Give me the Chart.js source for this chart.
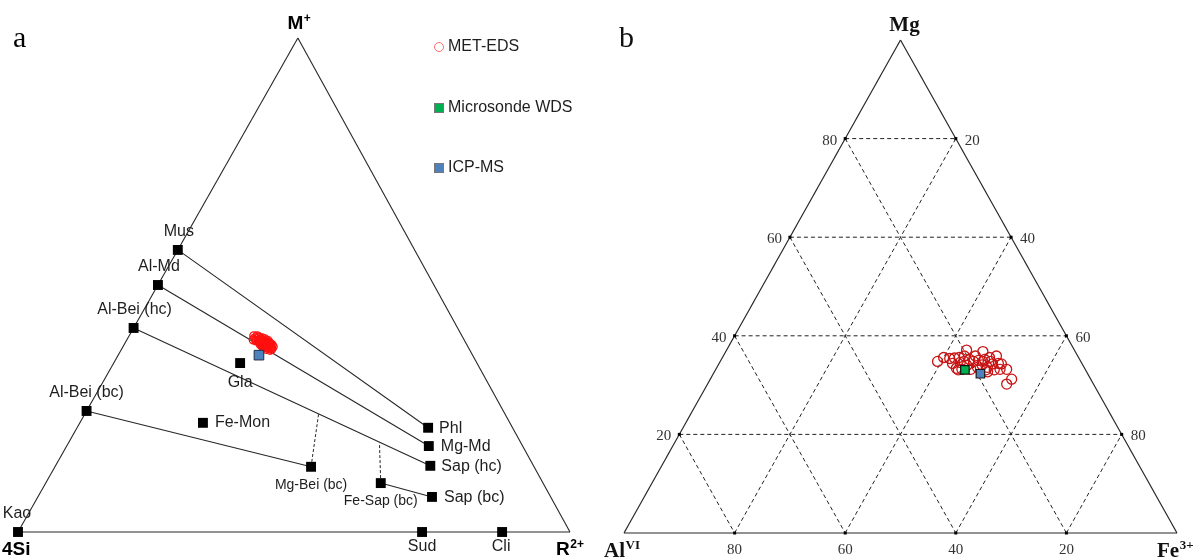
<!DOCTYPE html>
<html><head><meta charset="utf-8">
<script src="https://cdn.jsdelivr.net/npm/chart.js@4"></script>
<style>
html,body{margin:0;padding:0;background:#fff;}
body{width:1197px;height:558px;overflow:hidden;position:relative;}
.wrap{position:absolute;top:0;}
</style></head><body>
<div class="wrap" style="left:0;width:600px;height:558px"><canvas id="ca" width="600" height="558"></canvas></div>
<div class="wrap" style="left:600px;width:597px;height:558px"><canvas id="cb" width="597" height="558"></canvas></div>
<script>
// ================= Panel a : M+ / 4Si / R2+ (values in %) =================
const refNames = ['Kao','Mus','Al-Md','Al-Bei (hc)','Al-Bei (bc)','Phl','Mg-Md','Sap (hc)','Sap (bc)','Mg-Bei (bc)','Fe-Sap (bc)','Fe-Mon','Gla','Sud','Cli'];
const refM     = [0, 57.1, 50.0, 41.3, 24.5, 21.1, 17.4, 13.4, 7.1, 13.2, 9.9, 22.1, 34.2, 0, 0];
const refR     = [0, 0, 0, 0, 0, 63.6, 65.6, 67.9, 71.4, 46.4, 60.7, 22.3, 22.9, 73.2, 87.7];
const tieFrom  = ['Mus','Al-Md','Al-Bei (hc)','Al-Bei (bc)','Fe-Sap (bc)'];
const tieTo    = ['Phl','Mg-Md','Sap (hc)','Mg-Bei (bc)','Sap (bc)'];
const dashFrom = ['Mg-Bei (bc)','Fe-Sap (bc)'];
const dashToM  = [24.0, 18.1];
const dashToR  = [42.3, 56.3];
const metEdsM  = [39.7,39.1,39.3,38.9,38.7,38.3,38.5,38.1,37.9,37.7,38.1,38.5,37.7,37.5,38.3,37.3,39.7,39.3,39.1,38.7,37.9,37.3,37.0,38.9,36.8,37.5,37.9,
                  39.3,38.7,39.1,38.7,38.3,38.1,37.7,37.5,37.3,37.0,39.5,38.7];
const metEdsR  = [22.6,23.3,23.6,24.1,24.6,25.0,25.3,25.6,26.1,26.6,24.7,24.2,25.5,26.1,26.1,26.9,23.2,24.3,24.9,25.7,26.8,25.5,26.2,22.9,27.0,27.2,24.7,
                  23.0,23.9,24.2,25.0,25.7,26.4,25.1,25.8,26.4,27.2,23.6,23.5];
const icpAM    = [35.8];
const icpAR    = [25.5];
const legendLabels = ['MET-EDS','Microsonde WDS','ICP-MS'];

// ================= Panel b : AlVI / Mg / Fe3+ (values in %) =================
const edsAl = [25.9,24.4,23.4,22.5,21.6,20.5,19.5,19.9,19.4,18.4,16.7,17.2,16.1,14.7,15.1,15.4,14.2,14.3,15.7,23.2,22.3,21.0,20.7,19.3,18.2,17.5,16.2,16.5,14.6,17.9,23.4,21.9,18.5,17.7,16.3,21.1,23.0,18.0];
const edsMg = [34.8,35.6,35.4,35.5,35.6,35.9,37.1,35.2,34.8,35.0,36.8,35.2,35.6,35.9,34.4,33.2,33.2,31.2,30.2,33.4,33.2,34.0,33.2,33.6,34.1,33.6,34.3,33.1,34.3,32.7,34.4,34.6,35.9,34.8,34.8,34.8,33.1,33.1];
const edsFe = [39.3,40.0,41.2,42.0,42.8,43.6,43.4,44.9,45.8,46.6,46.5,47.6,48.3,49.4,50.5,51.4,52.6,54.5,54.1,43.4,44.5,45.0,46.1,47.1,47.7,48.9,49.5,50.4,51.1,49.4,42.2,43.5,45.6,47.5,48.9,44.1,43.9,48.9];
const wdsAl = [21.8], wdsMg = [33.1], wdsFe = [45.1];
const icpBAl = [19.4], icpBMg = [32.3], icpBFe = [48.3];
const gridTicks = [20, 40, 60, 80];

// ================= projections =================
const SKEW_A = 0.507;
function pA(M, R){ return {x: R/100 + SKEW_A*M/100, y: M/100}; }
function pB(al, mg, fe){ return {x: fe/100 + 0.5*mg/100, y: mg/100}; }
function refIdx(n){ return refNames.indexOf(n); }
function refPt(n){ const i = refIdx(n); return pA(refM[i], refR[i]); }

const INK = '#262626';
function seg(p1, p2, dash, w, col){
  return {type:'scatter', data:[p1,p2], showLine:true, pointRadius:0, borderColor:col||INK, backgroundColor:col||INK,
          borderWidth:w||1, borderDash:dash||[], clip:false, fill:false};
}

// ---------- datasets a ----------
const dsA = [];
dsA.push({data: icpAM.map((m,i)=>pA(m, icpAR[i])), pointStyle:'rect', pointRadius:6.8,
          backgroundColor:'#4f81bd', borderColor:'#1f2f45', borderWidth:1, clip:false});
dsA.push({data: refNames.map((n,i)=>pA(refM[i], refR[i])), pointStyle:'rect', pointRadius:7,
          backgroundColor:'#000', borderColor:'#000', borderWidth:0, clip:false});
dsA.push({data: metEdsM.map((m,i)=>pA(m, metEdsR[i])), pointStyle:'circle', pointRadius:4,
          backgroundColor:'rgba(0,0,0,0)', borderColor:'#ff1010', borderWidth:1.4, clip:false});
// triangle
dsA.push(seg(pA(0,0), pA(0,100), [], 1.1));
dsA.push(seg(pA(0,100), pA(100,0), [], 1.1));
dsA.push(seg(pA(100,0), pA(0,0), [], 1.1));
tieFrom.forEach((f,i)=> dsA.push(seg(refPt(f), refPt(tieTo[i]), [], 1.1)));
dashFrom.forEach((f,i)=> dsA.push(seg(refPt(f), pA(dashToM[i], dashToR[i]), [3,2], 1)));

// label layout for panel a: [dx, dy, align, size]
const refLabelLayout = {
  'Kao':[-1,-18,'center',16], 'Mus':[1,-18,'center',16], 'Al-Md':[1,-18,'center',16],
  'Al-Bei (hc)':[1,-18,'center',16], 'Al-Bei (bc)':[0,-18,'center',16],
  'Phl':[11,1,'left',16], 'Mg-Md':[12,1,'left',16], 'Sap (hc)':[11,1,'left',16], 'Sap (bc)':[12,1,'left',16],
  'Mg-Bei (bc)':[0,18,'center',14], 'Fe-Sap (bc)':[0,18,'center',14],
  'Fe-Mon':[12,0,'left',16], 'Gla':[0,20,'center',16], 'Sud':[0,15,'center',16], 'Cli':[-1,15,'center',16]
};

const SANS = '"Liberation Sans", Arial, sans-serif';
const SERIF = '"Liberation Serif", "Times New Roman", serif';

function supText(ctx, base, sup, x, y, bf, sf, rise, align){
  ctx.font = bf; const wb = ctx.measureText(base).width;
  ctx.font = sf; const ws = ctx.measureText(sup).width;
  let x0 = x;
  if(align==='center') x0 = x - (wb+ws)/2; else if(align==='right') x0 = x - wb - ws;
  ctx.textAlign='left'; ctx.textBaseline='alphabetic';
  ctx.font = bf; ctx.fillText(base, x0, y);
  ctx.font = sf; ctx.fillText(sup, x0+wb+0.5, y-rise);
}

const plugA = {
  id:'plugA',
  afterDatasetsDraw(chart){
    const ctx = chart.ctx, xs = chart.scales.x, ys = chart.scales.y;
    const px = p => [xs.getPixelForValue(p.x), ys.getPixelForValue(p.y)];
    ctx.save();
    ctx.fillStyle = '#1e1e1e';
    ctx.textBaseline='middle';
    refNames.forEach((n,i)=>{
      const [x,y] = px(pA(refM[i], refR[i]));
      const L = refLabelLayout[n];
      ctx.font = L[3]+'px '+SANS; ctx.textAlign = L[2];
      ctx.fillText(n, x+L[0], y+L[1]);
    });
    // vertices
    ctx.fillStyle='#000';
    const top = px(pA(100,0)), bl = px(pA(0,0)), br = px(pA(0,100));
    supText(ctx, 'M', '+', top[0]+1, top[1]-9, 'bold 19px '+SANS, 'bold 12px '+SANS, 7, 'center');
    ctx.font = 'bold 19px '+SANS; ctx.textAlign='left'; ctx.textBaseline='alphabetic';
    ctx.fillText('4Si', bl[0]-16, bl[1]+23);
    supText(ctx, 'R', '2+', br[0]-14, br[1]+23, 'bold 19px '+SANS, 'bold 12px '+SANS, 7, 'left');
    // panel letter
    ctx.font = '30px '+SERIF; ctx.fillText('a', 13, 47);
    // legend
    const lx = 439, ly = [47, 108, 168];
    ctx.lineWidth = 1;
    ctx.beginPath(); ctx.arc(lx, ly[0], 4.5, 0, Math.PI*2); ctx.strokeStyle='#ff6b6b'; ctx.stroke();
    ctx.fillStyle='#00b050'; ctx.fillRect(lx-4.5, ly[1]-4.5, 9, 9); ctx.strokeStyle='#777'; ctx.strokeRect(lx-4.5, ly[1]-4.5, 9, 9);
    ctx.fillStyle='#4f81bd'; ctx.fillRect(lx-4.5, ly[2]-4.5, 9, 9); ctx.strokeRect(lx-4.5, ly[2]-4.5, 9, 9);
    ctx.fillStyle='#1e1e1e'; ctx.font='16px '+SANS; ctx.textAlign='left'; ctx.textBaseline='middle';
    legendLabels.forEach((t,i)=> ctx.fillText(t, 448, ly[i]));
    ctx.restore();
  }
};

new Chart(document.getElementById('ca'), {
  type:'scatter', data:{datasets:dsA},
  options:{responsive:false, animation:false, events:[],
    layout:{padding:{left:18, right:30, top:38, bottom:26}},
    scales:{x:{type:'linear', min:0, max:1, display:false}, y:{type:'linear', min:0, max:1, display:false}},
    plugins:{legend:{display:false}, tooltip:{enabled:false}}},
  plugins:[plugA]
});

// ---------- datasets b ----------
const dsB = [];
dsB.push({data: icpBAl.map((a,i)=>pB(a, icpBMg[i], icpBFe[i])), pointStyle:'rect', pointRadius:6,
          backgroundColor:'#4f81bd', borderColor:'#1b1b1b', borderWidth:1.2, clip:false});
dsB.push({data: wdsAl.map((a,i)=>pB(a, wdsMg[i], wdsFe[i])), pointStyle:'rect', pointRadius:6,
          backgroundColor:'#00b050', borderColor:'#111', borderWidth:1.2, clip:false});
dsB.push({data: edsAl.map((a,i)=>pB(a, edsMg[i], edsFe[i])), pointStyle:'circle', pointRadius:5,
          backgroundColor:'rgba(0,0,0,0)', borderColor:'#c81414', borderWidth:1.3, clip:false});
dsB.push(seg(pB(100,0,0), pB(0,0,100), [], 1.2));
dsB.push(seg(pB(0,0,100), pB(0,100,0), [], 1.2));
dsB.push(seg(pB(0,100,0), pB(100,0,0), [], 1.2));
gridTicks.forEach(t=>{
  dsB.push(seg(pB(100-t, t, 0), pB(0, t, 100-t), [4,3], 1, '#222'));   // constant Mg
  dsB.push(seg(pB(t, 100-t, 0), pB(t, 0, 100-t), [4,3], 1, '#222'));   // constant Al
  dsB.push(seg(pB(100-t, 0, t), pB(0, 100-t, t), [4,3], 1, '#222'));   // constant Fe
});

const plugB = {
  id:'plugB',
  afterDatasetsDraw(chart){
    const ctx = chart.ctx, xs = chart.scales.x, ys = chart.scales.y;
    const px = p => [xs.getPixelForValue(p.x), ys.getPixelForValue(p.y)];
    ctx.save();
    ctx.fillStyle = '#000';
    // tick dots
    gridTicks.forEach(t=>{
      [pB(100-t,t,0), pB(0,t,100-t), pB(t,0,100-t)].forEach(p=>{
        const [x,y] = px(p); ctx.fillRect(x-1.5, y-1.5, 3, 3);
      });
    });
    ctx.fillStyle = '#333'; ctx.font = '15px '+SERIF; ctx.textBaseline='middle';
    gridTicks.forEach(t=>{
      let [x,y] = px(pB(100-t, t, 0)); ctx.textAlign='right'; ctx.fillText(String(t), x-8, y+2);
      [x,y] = px(pB(0, t, 100-t)); ctx.textAlign='left'; ctx.fillText(String(100-t), x+9, y+2);
      [x,y] = px(pB(t, 0, 100-t)); ctx.textAlign='center'; ctx.fillText(String(t), x, y+17);
    });
    ctx.fillStyle='#111';
    const top = px(pB(0,100,0)), bl = px(pB(100,0,0)), br = px(pB(0,0,100));
    ctx.font = 'bold 21px '+SERIF; ctx.textAlign='center'; ctx.textBaseline='alphabetic';
    ctx.fillText('Mg', top[0]+4, top[1]-9);
    supText(ctx, 'Al', 'VI', bl[0]-20, bl[1]+24, 'bold 21px '+SERIF, 'bold 13px '+SERIF, 8, 'left');
    supText(ctx, 'Fe', '3+', br[0]-20, br[1]+24, 'bold 21px '+SERIF, 'bold 13px '+SERIF, 8, 'left');
    ctx.font = '30px '+SERIF; ctx.textAlign='left'; ctx.fillText('b', 19, 47);
    ctx.restore();
  }
};

new Chart(document.getElementById('cb'), {
  type:'scatter', data:{datasets:dsB},
  options:{responsive:false, animation:false, events:[],
    layout:{padding:{left:24, right:20, top:40, bottom:25}},
    scales:{x:{type:'linear', min:0, max:1, display:false}, y:{type:'linear', min:0, max:1, display:false}},
    plugins:{legend:{display:false}, tooltip:{enabled:false}}},
  plugins:[plugB]
});
</script>
</body></html>
